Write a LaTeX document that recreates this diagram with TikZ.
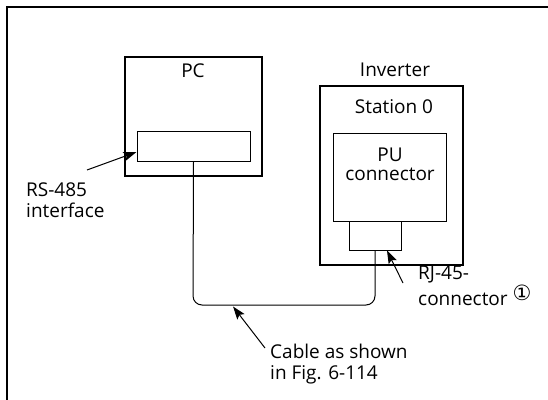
\documentclass[tikz,border=0pt]{standalone}
\usepackage{fontspec}
\setmainfont{Open Sans}
\newfontfamily\symfont{DejaVu Sans}
\usetikzlibrary{
    arrows.meta,
    positioning
}

\begin{document}
\begin{tikzpicture}[
        x=1pt, y=-1pt,
        every node/.style={font=\fontsize{19}{20.5}\selectfont},
        unit/.style={draw, line width=2pt, inner sep=0pt},
        port/.style={draw, line width=1pt, inner sep=0pt},
        lbl/.style={anchor=base west, align=left, inner sep=0pt},
        title/.style={anchor=base, align=center, inner sep=0pt},
        arr/.style={-{Stealth[length=13pt, width=9pt, inset=2.5pt]}, line width=1pt},
        cable/.style={line width=1pt},
    ]
        \useasboundingbox (0,0) rectangle (548,399);

        % Frame
        \draw[line width=2pt] (7,410) -- (7,7) -- (560,7);

        % PC
        \node[unit, minimum width=137pt, minimum height=119pt] (pc) at (193,116) {};
        \node[title] (pclbl) at (193,77) {PC};
        \node[port, minimum width=113pt, minimum height=30pt] (iface) at (193.5,146) {};

        % Inverter
        \node[unit, minimum width=143pt, minimum height=179pt] (inv) at (391,175) {};
        \node[title] (invlbl) at (395,76) {Inverter};
        \node[title] (stlbl) at (394,113) {Station 0};
        \node[port, minimum width=113pt, minimum height=88pt] (pu) at (390,177) {};
        \node[title, font=\fontsize{19}{18.5}\selectfont] (pulbl) at (390,180) {PU\\connector};
        \node[port, minimum width=52pt, minimum height=29pt] (rj) at (375,235.5) {};

        % Cable
        \coordinate (bend) at (193,305);
        \coordinate (rise) at (rj.south |- bend);
        \draw[cable] (iface.south) [rounded corners=9pt] -- (bend) -- (rise) [sharp corners] -- (rj.south);

        % Labels and pointers
        \coordinate (rsTail) at (87,170);
        \draw[arr] (rsTail) -- ([yshift=-6pt]iface.west);
        \node[lbl] (rslbl) at (26,217) {RS-485\\interface};

        \coordinate (rjTail) at (403,283);
        \draw[arr] (rjTail) -- ([xshift=12pt]rj.south);
        \node[lbl, font=\fontsize{19}{19}\selectfont] (rjlbl) at (418,305) {RJ-45-\\connector \raisebox{5pt}{\symfont\fontsize{21}{21}\selectfont ①}};

        \coordinate (cableTail) at (265,348);
        \draw[arr] (cableTail) -- ([xshift=40pt, yshift=-1.5pt]bend);
        \node[lbl] (cablelbl) at (270,379) {Cable as shown\\in Fig. 6-114};
    \end{tikzpicture}
\end{document}
